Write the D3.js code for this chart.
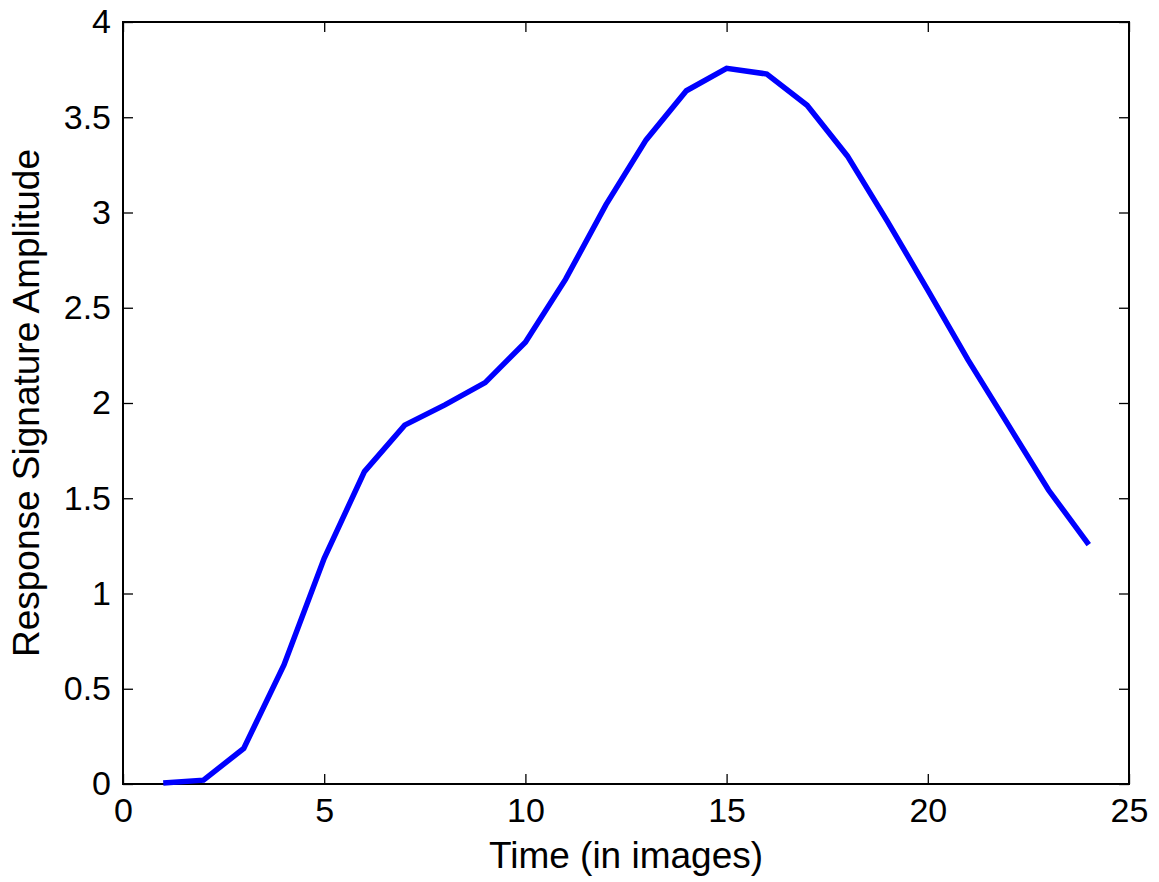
<!DOCTYPE html>
<html>
<head>
<meta charset="utf-8">
<script src="https://cdn.jsdelivr.net/npm/d3@7"></script>
<style>
  body { margin: 0; background: #fff; }
  svg text { font-family: "Liberation Sans", Arial, Helvetica, sans-serif; }
</style>
</head>
<body>
<div id="chart"></div>
<script>
// data
const timeSteps = [1, 2, 3, 4, 5, 6, 7, 8, 9, 10, 11, 12, 13, 14, 15, 16, 17, 18, 19, 20, 21, 22, 23, 24];
const amplitude = [0.005, 0.02, 0.187, 0.625, 1.185, 1.640, 1.884, 1.99, 2.107, 2.319, 2.65, 3.04,
                   3.381, 3.639, 3.757, 3.727, 3.563, 3.297, 2.952, 2.593, 2.226, 1.885, 1.543, 1.257];
const xTicks = [0, 5, 10, 15, 20, 25];
const yTicks = [0, 0.5, 1, 1.5, 2, 2.5, 3, 3.5, 4];

const svgWidth = 1159, svgHeight = 882;
const margin = { top: 22, right: 30, bottom: 98, left: 123 };
const width = svgWidth - margin.left - margin.right;
const height = svgHeight - margin.top - margin.bottom;
const tickFont = 34, labelFont = 37;

const svg = d3.select("#chart")
    .append("svg")
    .attr("width", svgWidth)
    .attr("height", svgHeight)
    .append("g")
    .attr("transform", `translate(${margin.left},${margin.top})`);

const xScale = d3.scaleLinear().domain([0, 25]).range([0, width]);
const yScale = d3.scaleLinear().domain([0, 4]).range([height, 0]);

// axes (ticks point inward, matlab style)
function styleAxis(g) {
    g.select(".domain").remove();
    g.selectAll(".tick line").attr("stroke", "#000").attr("stroke-width", 1.3);
    g.selectAll(".tick text").attr("font-size", tickFont).attr("fill", "#000");
}

svg.append("g")
    .attr("transform", `translate(0,${height})`)
    .call(d3.axisBottom(xScale).tickValues(xTicks).tickFormat(d3.format("d")).tickSizeInner(-10).tickPadding(14))
    .call(styleAxis);

svg.append("g")
    .call(d3.axisTop(xScale).tickValues(xTicks).tickFormat("").tickSizeInner(-10))
    .call(styleAxis);

svg.append("g")
    .call(d3.axisLeft(yScale).tickValues(yTicks).tickFormat(d => String(d)).tickSizeInner(-10).tickPadding(12))
    .call(styleAxis);

svg.append("g")
    .attr("transform", `translate(${width},0)`)
    .call(d3.axisRight(yScale).tickValues(yTicks).tickFormat("").tickSizeInner(-10))
    .call(styleAxis);

// box
svg.append("rect")
    .attr("width", width)
    .attr("height", height)
    .attr("fill", "none")
    .attr("stroke", "#000")
    .attr("stroke-width", 2);

// the line
const data = timeSteps.map((t, i) => ({ t: t, v: amplitude[i] }));
const line = d3.line()
    .x(d => xScale(d.t))
    .y(d => yScale(d.v));

svg.append("path")
    .datum(data)
    .attr("d", line)
    .attr("fill", "none")
    .attr("stroke", "#0000ff")
    .attr("stroke-width", 5.5)
    .attr("stroke-linejoin", "miter");

// labels
svg.append("text")
    .attr("x", width / 2)
    .attr("y", height + 84)
    .attr("text-anchor", "middle")
    .attr("font-size", labelFont)
    .text("Time (in images)");

svg.append("text")
    .attr("transform", `translate(${39 - margin.left},${height / 2}) rotate(-90)`)
    .attr("text-anchor", "middle")
    .attr("font-size", labelFont)
    .text("Response Signature Amplitude");
</script>
</body>
</html>
